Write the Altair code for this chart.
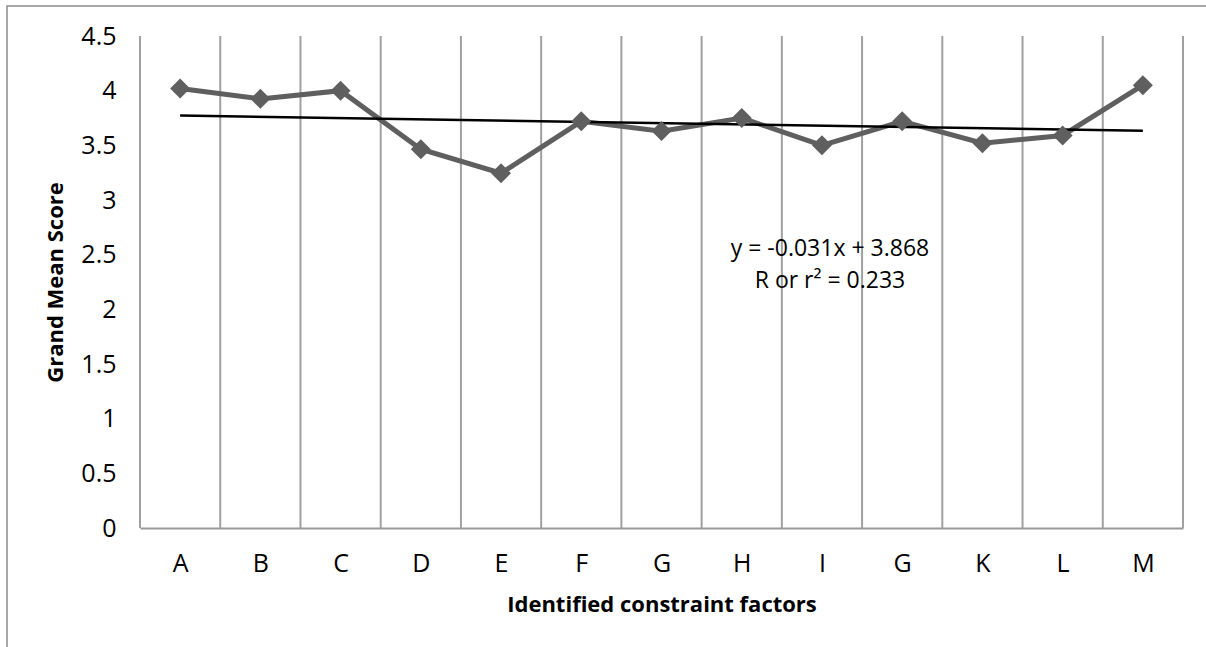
import altair as alt
import pandas as pd

categories = ["A", "B", "C", "D", "E", "F", "G", "H", "I", "G", "K", "L", "M"]
scores = [4.02, 3.925, 4.00, 3.465, 3.245, 3.72, 3.63, 3.75, 3.50, 3.72, 3.52, 3.59, 4.05]
y_ticks = [0, 0.5, 1, 1.5, 2, 2.5, 3, 3.5, 4, 4.5]
annotation_lines = ["y = -0.031x + 3.868", "R or r\u00b2 = 0.233"]
annotation_pos = [(8.6, 2.55), (8.6, 2.26)]

df = pd.DataFrame({
    "pos": [i + 0.5 for i in range(len(categories))],
    "label": categories,
    "score": scores,
})
bounds = pd.DataFrame({"b": list(range(len(categories) + 1))})
ann = pd.DataFrame({
    "text": annotation_lines,
    "x": [p[0] for p in annotation_pos],
    "y": [p[1] for p in annotation_pos],
})

FONT = "Open Sans"
n = len(categories)
label_expr = "[" + ",".join('"%s"' % c for c in categories) + "][floor(datum.value)]"

xscale = alt.Scale(domain=[0, n], nice=False, zero=False)
yscale = alt.Scale(domain=[0, 4.5], nice=False)

x_axis = alt.Axis(
    values=[i + 0.5 for i in range(n)],
    labelExpr=label_expr,
    title="Identified constraint factors",
    grid=False, ticks=False, domain=True,
    domainColor="#999999", domainWidth=2,
    labelFont=FONT, labelFontSize=25, labelColor="black", labelPadding=23,
    titleFont=FONT, titleFontSize=22, titleFontWeight="bold", titleColor="black",
    titlePadding=18,
)
y_axis = alt.Axis(
    values=y_ticks,
    format="~g",
    title="Grand Mean Score",
    grid=False, ticks=False, domain=False,
    labelFont=FONT, labelFontSize=25, labelColor="black", labelPadding=24,
    titleFont=FONT, titleFontSize=22, titleFontWeight="bold", titleColor="black",
    titlePadding=13,
)

border = alt.Chart(bounds).mark_rect(
    fill=None, stroke="#8c8c8c", strokeWidth=1.5
).encode(
    x=alt.value(-133), x2=alt.value(1080), y=alt.value(-30), y2=alt.value(640)
).transform_filter("datum.b == 0")

grid = alt.Chart(bounds).mark_rule(color="#a0a0a0", strokeWidth=2).encode(
    x=alt.X("b:Q", scale=xscale, axis=x_axis),
    y=alt.value(0), y2=alt.value(492),
)

line = alt.Chart(df).mark_line(color="#5f5f5f", strokeWidth=5).encode(
    x=alt.X("pos:Q", scale=xscale, axis=x_axis),
    y=alt.Y("score:Q", scale=yscale, axis=y_axis),
)
points = alt.Chart(df).mark_point(
    shape="diamond", filled=True, color="#5f5f5f", size=400, opacity=1
).encode(
    x=alt.X("pos:Q", scale=xscale),
    y=alt.Y("score:Q", scale=yscale),
)
trend = alt.Chart(df).transform_regression("pos", "score").mark_line(
    color="black", strokeWidth=2.5
).encode(
    x=alt.X("pos:Q", scale=xscale),
    y=alt.Y("score:Q", scale=yscale),
)
text = alt.Chart(ann).mark_text(
    font=FONT, fontSize=23, color="black", align="center", baseline="middle"
).encode(
    x=alt.X("x:Q", scale=xscale),
    y=alt.Y("y:Q", scale=yscale),
    text="text:N",
)

chart = alt.layer(border, grid, line, trend, points, text).properties(
    width=1043, height=492,
    autosize=alt.AutoSizeParams(type="none"),
    padding={"left": 140, "top": 36, "right": 23, "bottom": 119},
    background="white",
).configure_view(stroke=None)

chart.save("out.html", embed_options={"renderer": "svg", "actions": False})
